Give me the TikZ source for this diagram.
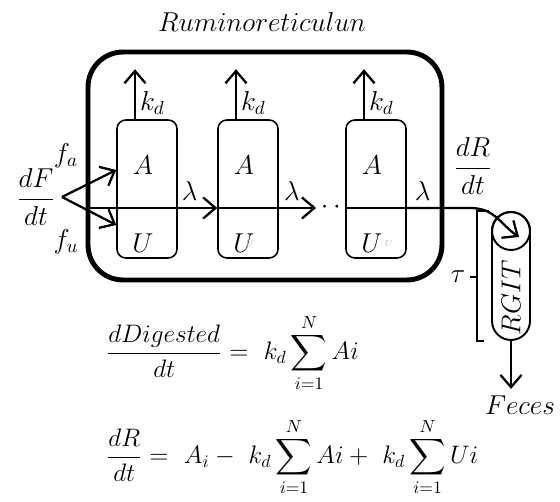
\documentclass[tikz,border=0pt]{standalone}
\usepackage{amsmath}
\usetikzlibrary{arrows.meta}

\begin{document}
\begin{tikzpicture}[x=0.02cm, y=-0.02cm, font=\Large,
  comp/.style={draw, line width=0.9pt, rounded corners=5pt,
    minimum width=1.2cm, minimum height=2.76cm, inner sep=0pt},
  flow/.style={-{Straight Barb[length=7pt,width=12pt]}, line width=1.3pt},
  lbl/.style={scale=1.08},
  ghost/.style={font=\tiny, text=black!25},
  eqn/.style={anchor=west}]
  \useasboundingbox (0,0) rectangle (560,502);
  \node[lbl] (title) at (262,22) {$Ruminoreticulun$};
  \node[draw, line width=2.8pt, rounded corners=0.7cm, minimum width=7.08cm,
    minimum height=4.56cm] (rumen) at (265,166) {};
  \node[comp] (c1) at (147,189) {};
  \node[comp] (c2) at (248,189) {};
  \node[comp] (c3) at (376,189) {};
  \coordinate (div) at (0,208);
  \foreach \c/\x in {c1/135, c2/236, c3/364} {
    \node[lbl] at (\x+8,165) {$A$};
    \node[lbl] at (\x+8,243) {$U$};
    \draw[flow] (\c.north -| \x,0) -- ++(0,-50) node[lbl, pos=0.32, right, inner sep=2pt] {$k_d$};
    \draw[line width=1.1pt] (\c.west |- div) -- (\c.east |- div);
  }
  \node[ghost] at (250,244) {$U$};
  \node[ghost] at (389,244) {$U$};
  % inputs
  \node[lbl] (dfdt) at (36,197) {$\dfrac{dF}{dt}$};
  \node[lbl] (fa) at (66,156) {$f_a$};
  \node[lbl] (fu) at (66,242) {$f_u$};
  \draw[flow] (62,197) -- (c1.west |- 0,170);
  \draw[flow] (62,197) -- (c1.west |- 0,225);
  \draw[line width=1.1pt] (rumen.west |- div) -- (c1.west |- div);
  % passage between compartments
  \draw[flow] (c1.east |- div) -- node[lbl, pos=0.3, above] {$\lambda$} (c2.west |- div);
  \draw[flow] (c2.east |- div) -- node[lbl, pos=0.35, above] {$\lambda$} (316,208);
  \node[lbl] (dots) at (327,207) {$\cdots$};
  % outflow to the gut
  \node[lbl] (drdt) at (473,166) {$\dfrac{dR}{dt}$};
  \node[draw, line width=1.1pt, rounded corners=0.38cm, minimum width=0.76cm,
    minimum height=2.56cm] (gut) at (511,276) {};
  \node[draw, circle, line width=1.1pt, minimum size=0.76cm] (pump) at (511,231) {};
  \node[lbl, rotate=90] (rgit) at (511,298) {$RGIT$};
  \draw[flow] (c3.east |- div) -- node[lbl, pos=0.25, above] {$\lambda$} (470,208)
    .. controls (495,208) and (500,224) .. (519,237);
  \draw[line width=1.1pt] (gut.north west) ++(-2,0) -- ++(-12,0) |- ([xshift=-4]gut.south west);
  \draw[line width=1.1pt] (478,277) -- (470,277);
  \node[lbl] (tau) at (458,277) {$\tau$};
  \node[lbl] (feces) at (520,405) {$Feces$};
  \draw[flow] (gut.south) -- (gut.south |- feces.north);
  % equations
  \node[eqn] (eq1) at (100,353)
    {$\displaystyle \frac{dDigested}{dt} = \ k_d \sum_{i=1}^{N} Ai$};
  \node[eqn] (eq2) at (100,457)
    {$\displaystyle \frac{dR}{dt} = \ A_i - \ k_d \sum_{i=1}^{N} Ai + \ k_d \sum_{i=1}^{N} Ui$};
\end{tikzpicture}
\end{document}
